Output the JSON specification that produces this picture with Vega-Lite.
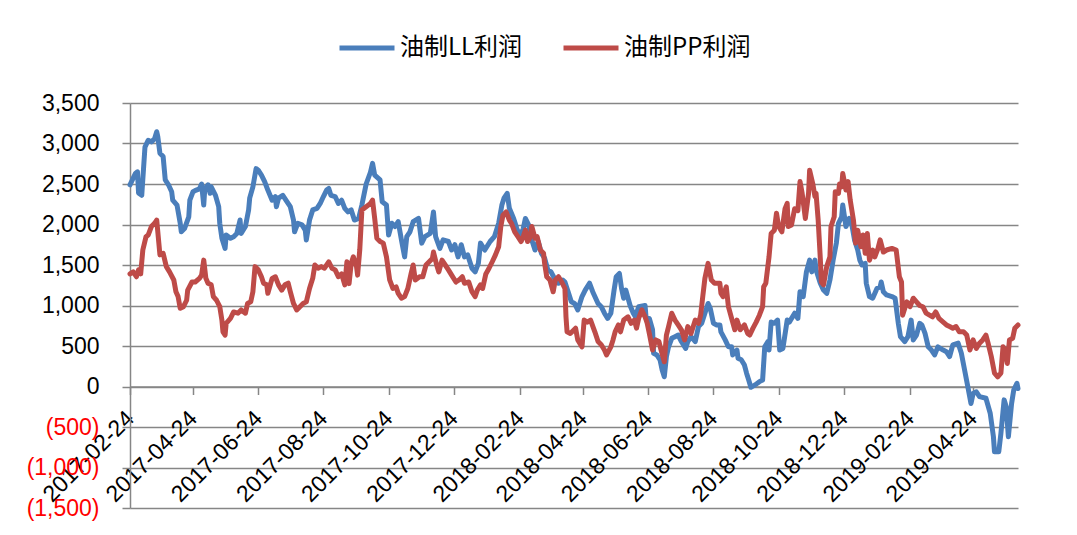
{
  "$schema": "https://vega.github.io/schema/vega-lite/v6.json",
  "autosize": "none",
  "width": 888,
  "height": 405,
  "padding": {"left": 130, "top": 103, "right": 59, "bottom": 27},
  "background": "white",
  "config": {
    "view": {"stroke": null},
    "font": "Liberation Sans"
  },
  "datasets": {
    "LL": [
      {"d":"2017-02-24","v":2490},{"d":"2017-03-01","v":2630},{"d":"2017-03-03","v":2650},{"d":"2017-03-04","v":2390},{"d":"2017-03-07","v":2360},{"d":"2017-03-10","v":2955},{"d":"2017-03-13","v":3040},{"d":"2017-03-16","v":3020},{"d":"2017-03-19","v":3060},{"d":"2017-03-21","v":3145},{"d":"2017-03-22","v":3085},{"d":"2017-03-24","v":2880},{"d":"2017-03-27","v":2840},{"d":"2017-03-29","v":2550},
      {"d":"2017-04-01","v":2490},{"d":"2017-04-04","v":2405},{"d":"2017-04-05","v":2300},{"d":"2017-04-09","v":2240},{"d":"2017-04-12","v":2015},{"d":"2017-04-13","v":1910},{"d":"2017-04-16","v":1950},{"d":"2017-04-20","v":2095},{"d":"2017-04-21","v":2300},{"d":"2017-04-24","v":2405},{"d":"2017-04-27","v":2425},{"d":"2017-04-30","v":2440},
      {"d":"2017-05-02","v":2500},{"d":"2017-05-04","v":2240},{"d":"2017-05-05","v":2440},{"d":"2017-05-08","v":2490},{"d":"2017-05-10","v":2385},{"d":"2017-05-11","v":2465},{"d":"2017-05-15","v":2360},{"d":"2017-05-18","v":2220},{"d":"2017-05-19","v":2015},{"d":"2017-05-21","v":1830},{"d":"2017-05-24","v":1705},{"d":"2017-05-25","v":1870},{"d":"2017-05-29","v":1830},
      {"d":"2017-06-01","v":1850},{"d":"2017-06-04","v":1890},{"d":"2017-06-07","v":2055},{"d":"2017-06-08","v":1890},{"d":"2017-06-12","v":1975},{"d":"2017-06-15","v":2180},{"d":"2017-06-16","v":2325},{"d":"2017-06-19","v":2465},{"d":"2017-06-22","v":2690},{"d":"2017-06-24","v":2670},{"d":"2017-06-27","v":2610},{"d":"2017-06-30","v":2530},
      {"d":"2017-07-03","v":2425},{"d":"2017-07-07","v":2300},{"d":"2017-07-10","v":2345},{"d":"2017-07-11","v":2220},{"d":"2017-07-13","v":2325},{"d":"2017-07-17","v":2360},{"d":"2017-07-21","v":2280},{"d":"2017-07-24","v":2220},{"d":"2017-07-27","v":2055},{"d":"2017-07-28","v":1910},{"d":"2017-07-31","v":2015},
      {"d":"2017-08-04","v":1995},{"d":"2017-08-07","v":1930},{"d":"2017-08-08","v":1810},{"d":"2017-08-11","v":2055},{"d":"2017-08-14","v":2180},{"d":"2017-08-18","v":2200},{"d":"2017-08-21","v":2260},{"d":"2017-08-24","v":2345},{"d":"2017-08-27","v":2425},{"d":"2017-08-29","v":2445},{"d":"2017-08-31","v":2360},
      {"d":"2017-09-04","v":2345},{"d":"2017-09-07","v":2260},{"d":"2017-09-10","v":2300},{"d":"2017-09-13","v":2200},{"d":"2017-09-16","v":2155},{"d":"2017-09-19","v":2180},{"d":"2017-09-22","v":2055},{"d":"2017-09-26","v":2075},{"d":"2017-09-29","v":2240},
      {"d":"2017-10-03","v":2500},{"d":"2017-10-07","v":2645},{"d":"2017-10-09","v":2755},{"d":"2017-10-11","v":2610},{"d":"2017-10-16","v":2550},{"d":"2017-10-18","v":2280},{"d":"2017-10-22","v":2240},{"d":"2017-10-24","v":1870},{"d":"2017-10-27","v":2015},{"d":"2017-10-30","v":1975},
      {"d":"2017-11-02","v":2035},{"d":"2017-11-05","v":1810},{"d":"2017-11-08","v":1600},{"d":"2017-11-10","v":1850},{"d":"2017-11-13","v":1910},{"d":"2017-11-16","v":2035},{"d":"2017-11-21","v":2075},{"d":"2017-11-24","v":1770},{"d":"2017-11-27","v":1850},
      {"d":"2017-12-02","v":1890},{"d":"2017-12-05","v":2155},{"d":"2017-12-07","v":1850},{"d":"2017-12-11","v":1705},{"d":"2017-12-14","v":1810},{"d":"2017-12-19","v":1790},{"d":"2017-12-22","v":1685},{"d":"2017-12-25","v":1750},{"d":"2017-12-28","v":1600},{"d":"2017-12-31","v":1750},
      {"d":"2018-01-03","v":1600},{"d":"2018-01-06","v":1625},{"d":"2018-01-10","v":1460},{"d":"2018-01-13","v":1415},{"d":"2018-01-16","v":1520},{"d":"2018-01-18","v":1770},{"d":"2018-01-22","v":1685},{"d":"2018-01-27","v":1790},{"d":"2018-01-31","v":1850},
      {"d":"2018-02-04","v":2015},{"d":"2018-02-07","v":2240},{"d":"2018-02-09","v":2325},{"d":"2018-02-12","v":2385},{"d":"2018-02-14","v":2200},{"d":"2018-02-18","v":2075},{"d":"2018-02-21","v":1950},{"d":"2018-02-24","v":1850},{"d":"2018-02-27","v":1950},
      {"d":"2018-03-01","v":2075},{"d":"2018-03-04","v":1995},{"d":"2018-03-07","v":1810},{"d":"2018-03-10","v":1685},{"d":"2018-03-13","v":1790},{"d":"2018-03-16","v":1645},{"d":"2018-03-19","v":1585},{"d":"2018-03-22","v":1440},{"d":"2018-03-25","v":1415},{"d":"2018-03-29","v":1315},
      {"d":"2018-04-01","v":1275},{"d":"2018-04-05","v":1315},{"d":"2018-04-07","v":1290},{"d":"2018-04-10","v":1170},{"d":"2018-04-13","v":1045},{"d":"2018-04-16","v":1025},{"d":"2018-04-19","v":945},{"d":"2018-04-23","v":1110},{"d":"2018-04-26","v":1190},{"d":"2018-04-30","v":1275},
      {"d":"2018-05-03","v":1170},{"d":"2018-05-08","v":1025},{"d":"2018-05-11","v":985},{"d":"2018-05-14","v":905},{"d":"2018-05-17","v":840},{"d":"2018-05-20","v":905},{"d":"2018-05-23","v":1190},{"d":"2018-05-25","v":1355},{"d":"2018-05-28","v":1395},{"d":"2018-05-30","v":1210},
      {"d":"2018-06-01","v":1090},{"d":"2018-06-03","v":1190},{"d":"2018-06-07","v":1000},{"d":"2018-06-10","v":905},{"d":"2018-06-12","v":860},{"d":"2018-06-15","v":985},{"d":"2018-06-21","v":1000},{"d":"2018-06-22","v":840},{"d":"2018-06-25","v":840},{"d":"2018-06-28","v":700},{"d":"2018-06-29","v":410},
      {"d":"2018-07-02","v":390},{"d":"2018-07-05","v":330},{"d":"2018-07-07","v":205},{"d":"2018-07-09","v":120},{"d":"2018-07-11","v":370},{"d":"2018-07-13","v":490},{"d":"2018-07-16","v":595},{"d":"2018-07-19","v":615},{"d":"2018-07-22","v":635},{"d":"2018-07-25","v":555},{"d":"2018-07-29","v":470},{"d":"2018-07-31","v":555},
      {"d":"2018-08-03","v":615},{"d":"2018-08-07","v":555},{"d":"2018-08-10","v":740},{"d":"2018-08-13","v":780},{"d":"2018-08-16","v":905},{"d":"2018-08-19","v":1025},{"d":"2018-08-21","v":965},{"d":"2018-08-24","v":780},{"d":"2018-08-27","v":760},{"d":"2018-08-30","v":760},{"d":"2018-08-31","v":675},
      {"d":"2018-09-04","v":575},{"d":"2018-09-07","v":490},{"d":"2018-09-10","v":490},{"d":"2018-09-11","v":390},{"d":"2018-09-15","v":450},{"d":"2018-09-16","v":350},{"d":"2018-09-19","v":330},{"d":"2018-09-22","v":265},{"d":"2018-09-24","v":165},{"d":"2018-09-26","v":80},{"d":"2018-09-28","v":-10},
      {"d":"2018-10-02","v":20},{"d":"2018-10-06","v":60},{"d":"2018-10-09","v":80},{"d":"2018-10-11","v":490},{"d":"2018-10-14","v":555},{"d":"2018-10-15","v":450},{"d":"2018-10-17","v":795},{"d":"2018-10-20","v":780},{"d":"2018-10-23","v":820},{"d":"2018-10-25","v":450},{"d":"2018-10-28","v":470},
      {"d":"2018-11-01","v":820},{"d":"2018-11-03","v":795},{"d":"2018-11-08","v":905},{"d":"2018-11-11","v":840},{"d":"2018-11-13","v":1170},{"d":"2018-11-16","v":1110},{"d":"2018-11-19","v":1415},{"d":"2018-11-22","v":1560},{"d":"2018-11-24","v":1415},{"d":"2018-11-27","v":1560},{"d":"2018-11-28","v":1440},
      {"d":"2018-12-02","v":1275},{"d":"2018-12-05","v":1190},{"d":"2018-12-08","v":1150},{"d":"2018-12-11","v":1315},{"d":"2018-12-14","v":1560},{"d":"2018-12-17","v":1770},{"d":"2018-12-19","v":2015},{"d":"2018-12-22","v":2095},{"d":"2018-12-23","v":2240},{"d":"2018-12-26","v":1975},{"d":"2018-12-29","v":2075},{"d":"2018-12-31","v":2035},
      {"d":"2019-01-03","v":1810},{"d":"2019-01-06","v":1685},{"d":"2019-01-08","v":1560},{"d":"2019-01-10","v":1500},{"d":"2019-01-13","v":1520},{"d":"2019-01-14","v":1275},{"d":"2019-01-17","v":1110},{"d":"2019-01-20","v":1090},{"d":"2019-01-24","v":1210},{"d":"2019-01-27","v":1230},{"d":"2019-01-28","v":1290},{"d":"2019-01-30","v":1170},
      {"d":"2019-02-02","v":1130},{"d":"2019-02-07","v":1110},{"d":"2019-02-10","v":1090},{"d":"2019-02-13","v":780},{"d":"2019-02-15","v":615},{"d":"2019-02-19","v":555},{"d":"2019-02-22","v":615},{"d":"2019-02-25","v":820},{"d":"2019-02-27","v":575},
      {"d":"2019-03-02","v":635},{"d":"2019-03-05","v":780},{"d":"2019-03-07","v":760},{"d":"2019-03-10","v":655},{"d":"2019-03-13","v":490},{"d":"2019-03-16","v":450},{"d":"2019-03-19","v":390},{"d":"2019-03-22","v":490},{"d":"2019-03-27","v":450},{"d":"2019-03-30","v":430},
      {"d":"2019-04-02","v":370},{"d":"2019-04-05","v":515},{"d":"2019-04-10","v":535},{"d":"2019-04-13","v":410},{"d":"2019-04-16","v":205},{"d":"2019-04-19","v":0},{"d":"2019-04-22","v":-210},{"d":"2019-04-24","v":-85},{"d":"2019-04-27","v":-65},{"d":"2019-04-30","v":-125},
      {"d":"2019-05-06","v":-145},{"d":"2019-05-10","v":-330},{"d":"2019-05-13","v":-620},{"d":"2019-05-14","v":-805},{"d":"2019-05-18","v":-805},{"d":"2019-05-20","v":-580},{"d":"2019-05-23","v":-165},{"d":"2019-05-25","v":-250},{"d":"2019-05-27","v":-620},{"d":"2019-05-30","v":-210},
      {"d":"2019-06-01","v":-45},{"d":"2019-06-04","v":40},{"d":"2019-06-05","v":-25}
    ],
    "PP": [
      {"d":"2017-02-24","v":1390},{"d":"2017-02-27","v":1415},{"d":"2017-03-02","v":1355},{"d":"2017-03-04","v":1440},{"d":"2017-03-06","v":1390},{"d":"2017-03-08","v":1685},{"d":"2017-03-11","v":1850},{"d":"2017-03-13","v":1870},{"d":"2017-03-16","v":1975},{"d":"2017-03-19","v":2015},{"d":"2017-03-21","v":2055},{"d":"2017-03-23","v":1770},{"d":"2017-03-24","v":1625},{"d":"2017-03-27","v":1645},{"d":"2017-03-30","v":1480},
      {"d":"2017-04-02","v":1415},{"d":"2017-04-06","v":1315},{"d":"2017-04-08","v":1170},{"d":"2017-04-10","v":1110},{"d":"2017-04-12","v":965},{"d":"2017-04-15","v":985},{"d":"2017-04-18","v":1065},{"d":"2017-04-19","v":1190},{"d":"2017-04-23","v":1290},{"d":"2017-04-26","v":1290},{"d":"2017-04-30","v":1335},
      {"d":"2017-05-02","v":1375},{"d":"2017-05-04","v":1560},{"d":"2017-05-06","v":1335},{"d":"2017-05-08","v":1275},{"d":"2017-05-11","v":1255},{"d":"2017-05-13","v":1110},{"d":"2017-05-16","v":1065},{"d":"2017-05-19","v":985},{"d":"2017-05-21","v":820},{"d":"2017-05-22","v":675},{"d":"2017-05-24","v":635},{"d":"2017-05-25","v":780},{"d":"2017-05-29","v":840},
      {"d":"2017-06-01","v":920},{"d":"2017-06-05","v":905},{"d":"2017-06-08","v":945},{"d":"2017-06-12","v":905},{"d":"2017-06-14","v":1025},{"d":"2017-06-17","v":1045},{"d":"2017-06-19","v":1170},{"d":"2017-06-21","v":1480},{"d":"2017-06-24","v":1440},{"d":"2017-06-27","v":1355},{"d":"2017-06-29","v":1275},
      {"d":"2017-07-02","v":1255},{"d":"2017-07-03","v":1150},{"d":"2017-07-07","v":1335},{"d":"2017-07-10","v":1355},{"d":"2017-07-13","v":1255},{"d":"2017-07-16","v":1190},{"d":"2017-07-19","v":1255},{"d":"2017-07-22","v":1275},{"d":"2017-07-24","v":1170},{"d":"2017-07-27","v":1025},{"d":"2017-07-30","v":945},
      {"d":"2017-08-02","v":985},{"d":"2017-08-05","v":1025},{"d":"2017-08-08","v":1045},{"d":"2017-08-11","v":1210},{"d":"2017-08-14","v":1335},{"d":"2017-08-16","v":1500},{"d":"2017-08-19","v":1460},{"d":"2017-08-22","v":1480},{"d":"2017-08-25","v":1460},{"d":"2017-08-29","v":1540},
      {"d":"2017-09-01","v":1460},{"d":"2017-09-04","v":1440},{"d":"2017-09-07","v":1355},{"d":"2017-09-10","v":1390},{"d":"2017-09-13","v":1255},{"d":"2017-09-15","v":1540},{"d":"2017-09-17","v":1270},{"d":"2017-09-19","v":1520},{"d":"2017-09-21","v":1600},{"d":"2017-09-24","v":1480},{"d":"2017-09-25","v":1375},{"d":"2017-09-27","v":1685},{"d":"2017-09-29","v":2180},
      {"d":"2017-10-03","v":2220},{"d":"2017-10-07","v":2260},{"d":"2017-10-09","v":2300},{"d":"2017-10-11","v":2075},{"d":"2017-10-13","v":1830},{"d":"2017-10-16","v":1790},{"d":"2017-10-19","v":1770},{"d":"2017-10-22","v":1600},{"d":"2017-10-25","v":1315},{"d":"2017-10-28","v":1210},{"d":"2017-10-31","v":1230},
      {"d":"2017-11-02","v":1150},{"d":"2017-11-05","v":1090},{"d":"2017-11-08","v":1110},{"d":"2017-11-11","v":1210},{"d":"2017-11-14","v":1390},{"d":"2017-11-16","v":1500},{"d":"2017-11-18","v":1315},{"d":"2017-11-22","v":1355},{"d":"2017-11-25","v":1355},{"d":"2017-11-28","v":1500},
      {"d":"2017-12-01","v":1540},{"d":"2017-12-04","v":1580},{"d":"2017-12-05","v":1660},{"d":"2017-12-08","v":1500},{"d":"2017-12-10","v":1415},{"d":"2017-12-13","v":1560},{"d":"2017-12-16","v":1500},{"d":"2017-12-19","v":1440},{"d":"2017-12-22","v":1375},{"d":"2017-12-26","v":1290},{"d":"2017-12-29","v":1315},
      {"d":"2018-01-01","v":1355},{"d":"2018-01-03","v":1275},{"d":"2018-01-07","v":1290},{"d":"2018-01-10","v":1170},{"d":"2018-01-13","v":1110},{"d":"2018-01-15","v":1190},{"d":"2018-01-18","v":1255},{"d":"2018-01-20","v":1210},{"d":"2018-01-23","v":1390},{"d":"2018-01-26","v":1460},{"d":"2018-01-29","v":1540},
      {"d":"2018-02-01","v":1625},{"d":"2018-02-04","v":1725},{"d":"2018-02-06","v":1975},{"d":"2018-02-08","v":2115},{"d":"2018-02-11","v":2155},{"d":"2018-02-14","v":2055},{"d":"2018-02-16","v":2015},{"d":"2018-02-19","v":1910},{"d":"2018-02-22","v":1850},{"d":"2018-02-25","v":1790},{"d":"2018-02-27","v":1850},
      {"d":"2018-03-01","v":1930},{"d":"2018-03-03","v":1790},{"d":"2018-03-05","v":1830},{"d":"2018-03-07","v":1975},{"d":"2018-03-10","v":1830},{"d":"2018-03-12","v":1850},{"d":"2018-03-15","v":1685},{"d":"2018-03-18","v":1645},{"d":"2018-03-19","v":1520},{"d":"2018-03-21","v":1355},{"d":"2018-03-24","v":1315},{"d":"2018-03-27","v":1170},{"d":"2018-03-29","v":1315},
      {"d":"2018-04-01","v":1355},{"d":"2018-04-04","v":1290},{"d":"2018-04-07","v":1210},{"d":"2018-04-08","v":860},{"d":"2018-04-09","v":675},{"d":"2018-04-12","v":655},{"d":"2018-04-17","v":720},{"d":"2018-04-19","v":575},{"d":"2018-04-23","v":490},{"d":"2018-04-25","v":820},{"d":"2018-04-28","v":795},
      {"d":"2018-05-01","v":820},{"d":"2018-05-05","v":675},{"d":"2018-05-08","v":555},{"d":"2018-05-11","v":515},{"d":"2018-05-14","v":450},{"d":"2018-05-16","v":390},{"d":"2018-05-20","v":490},{"d":"2018-05-22","v":575},{"d":"2018-05-24","v":675},{"d":"2018-05-27","v":760},{"d":"2018-05-29","v":675},
      {"d":"2018-06-01","v":820},{"d":"2018-06-05","v":860},{"d":"2018-06-08","v":780},{"d":"2018-06-11","v":820},{"d":"2018-06-13","v":720},{"d":"2018-06-15","v":840},{"d":"2018-06-18","v":945},{"d":"2018-06-21","v":860},{"d":"2018-06-23","v":780},{"d":"2018-06-25","v":655},{"d":"2018-06-28","v":450},
      {"d":"2018-07-01","v":575},{"d":"2018-07-04","v":555},{"d":"2018-07-06","v":450},{"d":"2018-07-09","v":305},{"d":"2018-07-11","v":635},{"d":"2018-07-13","v":740},{"d":"2018-07-16","v":905},{"d":"2018-07-19","v":820},{"d":"2018-07-22","v":760},{"d":"2018-07-25","v":700},{"d":"2018-07-28","v":575},{"d":"2018-07-31","v":740},
      {"d":"2018-08-03","v":655},{"d":"2018-08-07","v":820},{"d":"2018-08-10","v":780},{"d":"2018-08-12","v":880},{"d":"2018-08-14","v":1110},{"d":"2018-08-16","v":1335},{"d":"2018-08-19","v":1520},{"d":"2018-08-22","v":1315},{"d":"2018-08-25","v":1275},{"d":"2018-08-30","v":1275},{"d":"2018-08-31","v":1150},
      {"d":"2018-09-02","v":1110},{"d":"2018-09-05","v":1230},{"d":"2018-09-07","v":985},{"d":"2018-09-10","v":840},{"d":"2018-09-13","v":700},{"d":"2018-09-15","v":820},{"d":"2018-09-18","v":700},{"d":"2018-09-22","v":760},{"d":"2018-09-25","v":655},{"d":"2018-09-27","v":635},{"d":"2018-09-30","v":720},
      {"d":"2018-10-03","v":795},{"d":"2018-10-06","v":880},{"d":"2018-10-09","v":985},{"d":"2018-10-10","v":1230},{"d":"2018-10-12","v":1275},{"d":"2018-10-15","v":1600},{"d":"2018-10-17","v":1890},{"d":"2018-10-20","v":1930},{"d":"2018-10-22","v":2140},{"d":"2018-10-24","v":1975},{"d":"2018-10-27","v":1910},{"d":"2018-10-30","v":2195},
      {"d":"2018-11-01","v":2260},{"d":"2018-11-02","v":1975},{"d":"2018-11-05","v":1995},{"d":"2018-11-08","v":2195},{"d":"2018-11-11","v":2170},{"d":"2018-11-13","v":2530},{"d":"2018-11-15","v":2385},{"d":"2018-11-18","v":2075},{"d":"2018-11-21","v":2385},{"d":"2018-11-22","v":2670},{"d":"2018-11-25","v":2500},{"d":"2018-11-27","v":2345},{"d":"2018-11-28","v":2385},{"d":"2018-11-30","v":2055},
      {"d":"2018-12-02","v":1580},{"d":"2018-12-03","v":1290},{"d":"2018-12-05","v":1255},{"d":"2018-12-08","v":1480},{"d":"2018-12-11","v":1600},{"d":"2018-12-12","v":1975},{"d":"2018-12-15","v":2095},{"d":"2018-12-16","v":2405},{"d":"2018-12-19","v":2385},{"d":"2018-12-20","v":2500},{"d":"2018-12-22","v":2465},{"d":"2018-12-23","v":2630},{"d":"2018-12-26","v":2425},{"d":"2018-12-28","v":2530},{"d":"2018-12-30","v":2300},
      {"d":"2019-01-02","v":2055},{"d":"2019-01-04","v":1770},{"d":"2019-01-06","v":1930},{"d":"2019-01-09","v":1725},{"d":"2019-01-11","v":1870},{"d":"2019-01-13","v":1645},{"d":"2019-01-15","v":1890},{"d":"2019-01-17","v":1560},{"d":"2019-01-20","v":1685},{"d":"2019-01-22","v":1600},{"d":"2019-01-25","v":1705},{"d":"2019-01-27","v":1810},{"d":"2019-01-30","v":1660},
      {"d":"2019-02-02","v":1685},{"d":"2019-02-07","v":1705},{"d":"2019-02-11","v":1685},{"d":"2019-02-14","v":1355},{"d":"2019-02-16","v":1290},{"d":"2019-02-17","v":880},{"d":"2019-02-21","v":1045},{"d":"2019-02-24","v":985},{"d":"2019-02-27","v":1090},
      {"d":"2019-03-02","v":1045},{"d":"2019-03-05","v":1000},{"d":"2019-03-08","v":985},{"d":"2019-03-11","v":905},{"d":"2019-03-17","v":860},{"d":"2019-03-20","v":920},{"d":"2019-03-23","v":840},{"d":"2019-03-27","v":795},{"d":"2019-03-30","v":760},
      {"d":"2019-04-02","v":740},{"d":"2019-04-05","v":720},{"d":"2019-04-08","v":740},{"d":"2019-04-11","v":675},{"d":"2019-04-15","v":675},{"d":"2019-04-18","v":635},{"d":"2019-04-21","v":450},{"d":"2019-04-24","v":575},{"d":"2019-04-27","v":470},{"d":"2019-04-30","v":535},
      {"d":"2019-05-03","v":575},{"d":"2019-05-06","v":635},{"d":"2019-05-08","v":535},{"d":"2019-05-11","v":370},{"d":"2019-05-14","v":165},{"d":"2019-05-17","v":120},{"d":"2019-05-20","v":165},{"d":"2019-05-22","v":490},{"d":"2019-05-24","v":450},{"d":"2019-05-26","v":285},{"d":"2019-05-28","v":575},{"d":"2019-05-31","v":595},
      {"d":"2019-06-02","v":720},{"d":"2019-06-05","v":760}
    ]
  },
  "encoding": {
    "x": {
      "field": "d",
      "type": "temporal",
      "scale": {
        "type": "utc",
        "domain": [{"year": 2017, "month": 2, "date": 24, "utc": true}, {"year": 2019, "month": 6, "date": 5, "utc": true}]
      },
      "axis": {
        "title": null,
        "offset": -121.5,
        "format": "%Y-%m-%d",
        "values": [
          {"year": 2017, "month": 2, "date": 24, "utc": true},
          {"year": 2017, "month": 4, "date": 24, "utc": true},
          {"year": 2017, "month": 6, "date": 24, "utc": true},
          {"year": 2017, "month": 8, "date": 24, "utc": true},
          {"year": 2017, "month": 10, "date": 24, "utc": true},
          {"year": 2017, "month": 12, "date": 24, "utc": true},
          {"year": 2018, "month": 2, "date": 24, "utc": true},
          {"year": 2018, "month": 4, "date": 24, "utc": true},
          {"year": 2018, "month": 6, "date": 24, "utc": true},
          {"year": 2018, "month": 8, "date": 24, "utc": true},
          {"year": 2018, "month": 10, "date": 24, "utc": true},
          {"year": 2018, "month": 12, "date": 24, "utc": true},
          {"year": 2019, "month": 2, "date": 24, "utc": true},
          {"year": 2019, "month": 4, "date": 24, "utc": true}
        ],
        "labelAngle": -45,
        "labelAlign": "right",
        "labelBaseline": "middle",
        "labelFontSize": 23,
        "labelFont": "Liberation Sans",
        "labelColor": "black",
        "labelPadding": 20,
        "labelOverlap": false,
        "labelFlush": false,
        "grid": false,
        "domainColor": "#868686",
        "domainWidth": 1.5,
        "tickColor": "#868686",
        "tickWidth": 1.5,
        "tickSize": 8
      }
    },
    "y": {
      "field": "v",
      "type": "quantitative",
      "scale": {"domain": [-1500, 3500], "nice": false, "zero": false},
      "axis": {
        "title": null,
        "values": [-1500, -1000, -500, 0, 500, 1000, 1500, 2000, 2500, 3000, 3500],
        "labelExpr": "datum.value < 0 ? '(' + format(-datum.value, ',') + ')' : format(datum.value, ',')",
        "labelColor": {"condition": {"test": "datum.value < 0", "value": "#FF0000"}, "value": "black"},
        "labelFontSize": 23,
        "labelFont": "Liberation Sans",
        "labelPadding": 23,
        "tickSize": 8,
        "tickColor": "#868686",
        "tickWidth": 1.5,
        "domainColor": "#868686",
        "domainWidth": 1.5,
        "grid": true,
        "gridColor": "#868686",
        "gridWidth": 1.5,
        "gridOpacity": 1
      }
    },
    "color": {
      "type": "nominal",
      "scale": {"domain": ["油制LL利润", "油制PP利润"], "range": ["#4A7EBB", "#BE4B48"]},
      "legend": {
        "title": null,
        "orient": "none",
        "direction": "horizontal",
        "legendX": 207,
        "legendY": -85,
        "padding": 0,
        "symbolType": "stroke",
        "symbolSize": 3025,
        "symbolStrokeWidth": 5,
        "labelFont": "Noto Sans CJK SC",
        "labelFontSize": 24,
        "labelColor": "black",
        "labelOffset": 3,
        "columnPadding": 30
      }
    }
  },
  "layer": [
    {
      "data": {"name": "LL"},
      "mark": {"type": "line", "strokeWidth": 5, "strokeJoin": "round", "strokeCap": "round"},
      "encoding": {"color": {"datum": "油制LL利润"}}
    },
    {
      "data": {"name": "PP"},
      "mark": {"type": "line", "strokeWidth": 5, "strokeJoin": "round", "strokeCap": "round"},
      "encoding": {"color": {"datum": "油制PP利润"}}
    }
  ]
}
